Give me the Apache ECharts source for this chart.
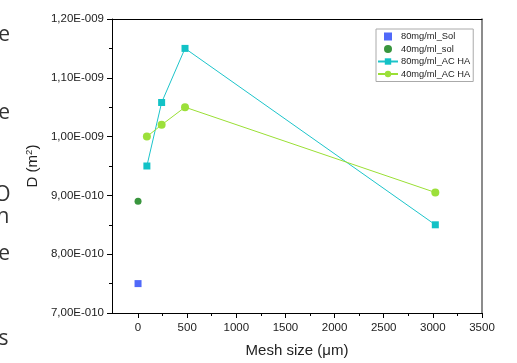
<!DOCTYPE html>
<html><head><meta charset="utf-8">
<script src="https://cdn.jsdelivr.net/npm/echarts@6/dist/echarts.min.js"></script>
<style>html,body{margin:0;padding:0;background:#fff}#c{width:517px;height:363px}</style>
</head><body><div id="c"></div>
<script>
// Mesh size (µm) and diffusion coefficient D (m^2)
const solX80 = [0];
const solY80 = [7.5e-10];
const solX40 = [0];
const solY40 = [8.9e-10];
const acX80 = [90, 240, 478, 3025];
const acY80 = [9.5e-10, 1.058e-9, 1.15e-9, 8.5e-10];
const acX40 = [90, 240, 478, 3025];
const acY40 = [1.0e-9, 1.02e-9, 1.05e-9, 9.05e-10];
const xTicks = [0, 500, 1000, 1500, 2000, 2500, 3000, 3500];
const xMinorTicks = [250, 750, 1250, 1750, 2250, 2750, 3250];
const seriesNames = ['80mg/ml_Sol', '40mg/ml_sol', '80mg/ml_AC HA', '40mg/ml_AC HA'];

const SCALE = 1e10; // plot in units of 1e-10
const pts = (xs, ys) => xs.map((x, i) => [x, ys[i] * SCALE]);
function fmtY(v) {
  const real = v / SCALE;
  const e = Math.floor(Math.log10(real) + 1e-9);
  const m = real / Math.pow(10, e);
  const sign = e < 0 ? '-' : '+';
  return m.toFixed(2).replace('.', ',') + 'E' + sign + String(Math.abs(e)).padStart(3, '0');
}
const FONT = 'Liberation Sans, Arial, sans-serif';
const SQ = 'path://M0,0L10,0L10,10L0,10Z';
const chart = echarts.init(document.getElementById('c'));
chart.setOption({
  animation: false,
  grid: { left: 112, right: 35, top: 19, bottom: 47.5 },
  legend: {
    orient: 'vertical', left: 376, top: 29,
    itemWidth: 20, itemHeight: 8, itemGap: 3.5,
    borderColor: '#aaa', borderWidth: 1, backgroundColor: '#fff',
    padding: [3, 3, 3, 1],
    textStyle: { fontFamily: FONT, fontSize: 9.3, color: '#222', padding: [0, 0, 0, -2] },
    data: [
      { name: seriesNames[0], icon: SQ },
      { name: seriesNames[1] },
      { name: seriesNames[2] },
      { name: seriesNames[3] }
    ]
  },
  xAxis: [{
    type: 'value', min: -265, max: 3500,
    axisLine: { onZero: false, lineStyle: { color: '#000', width: 1 } },
    axisTick: { show: true, length: 5, customValues: xTicks, lineStyle: { color: '#000' } },
    axisLabel: { customValues: xTicks, formatter: v => String(v), fontFamily: FONT, fontSize: 11.5, color: '#222', margin: 9 },
    splitLine: { show: false },
    name: 'Mesh size (\u03bcm)', nameLocation: 'middle', nameGap: 30,
    nameTextStyle: { fontFamily: FONT, fontSize: 15, color: '#222' }
  }, {
    type: 'value', min: -265, max: 3500, position: 'bottom',
    axisLine: { show: false, onZero: false },
    axisTick: { show: true, length: 3, customValues: xMinorTicks, lineStyle: { color: '#000' } },
    axisLabel: { show: false }, splitLine: { show: false }
  }, {
    type: 'value', min: -265, max: 3500, position: 'top',
    axisLine: { show: true, onZero: false, lineStyle: { color: '#000' } },
    axisTick: { show: false }, axisLabel: { show: false }, splitLine: { show: false }
  }],
  yAxis: [{
    type: 'value', min: 7, max: 12, interval: 1,
    axisLine: { show: true, onZero: false, lineStyle: { color: '#000' } },
    axisTick: { show: true, length: 5, lineStyle: { color: '#000' } },
    minorTick: { show: true, splitNumber: 2, length: 3, lineStyle: { color: '#000' } },
    axisLabel: { formatter: fmtY, fontFamily: FONT, fontSize: 11.5, color: '#222', margin: 8 },
    splitLine: { show: false },
    name: '{a|D (m}{s|2}{a|)}', nameLocation: 'middle', nameGap: 64, nameRotate: 90,
    nameTextStyle: { rich: {
      a: { fontFamily: FONT, fontSize: 15, color: '#222' },
      s: { fontFamily: FONT, fontSize: 9.5, color: '#222', verticalAlign: 'top', padding: [0, 0, 6, 0] }
    } }
  }, {
    type: 'value', min: 7, max: 12, position: 'right',
    axisLine: { show: true, onZero: false, lineStyle: { color: '#666', width: 1.5 } },
    axisTick: { show: false }, axisLabel: { show: false }, splitLine: { show: false }
  }],
  series: [
    { name: seriesNames[0], type: 'scatter', symbol: 'rect', symbolSize: 7,
      itemStyle: { color: '#2444F8' }, data: pts(solX80, solY80) },
    { name: seriesNames[1], type: 'scatter', symbol: 'circle', symbolSize: 7,
      itemStyle: { color: '#077A0C' }, data: pts(solX40, solY40) },
    { name: seriesNames[2], type: 'line', symbol: 'rect', symbolSize: 7,
      lineStyle: { color: '#1CC4CA', width: 1 }, itemStyle: { color: '#12C2C6' },
      data: pts(acX80, acY80) },
    { name: seriesNames[3], type: 'line', symbol: 'circle', symbolSize: 8,
      lineStyle: { color: '#9ADF34', width: 1 }, itemStyle: { color: '#9CE03A' },
      data: pts(acX40, acY40) }
  ],
  graphic: [
    { type: 'text', x: 10, y: 35, style: { text: 'e', fontFamily: 'Open Sans', fontSize: 21, fill: '#333', align: 'right', verticalAlign: 'middle' } },
    { type: 'text', x: 10, y: 113, style: { text: 'e', fontFamily: 'Open Sans', fontSize: 21, fill: '#333', align: 'right', verticalAlign: 'middle' } },
    { type: 'text', x: 10.5, y: 195, style: { text: 'O', fontFamily: 'Open Sans', fontSize: 21, fill: '#333', align: 'right', verticalAlign: 'middle' } },
    { type: 'text', x: 9.5, y: 217, style: { text: 'n', fontFamily: 'Open Sans', fontSize: 21, fill: '#333', align: 'right', verticalAlign: 'middle' } },
    { type: 'text', x: 10, y: 254, style: { text: 'e', fontFamily: 'Open Sans', fontSize: 21, fill: '#333', align: 'right', verticalAlign: 'middle' } },
    { type: 'text', x: 8.5, y: 339, style: { text: 's', fontFamily: 'Open Sans', fontSize: 21, fill: '#333', align: 'right', verticalAlign: 'middle' } }
  ]
});
</script></body></html>
